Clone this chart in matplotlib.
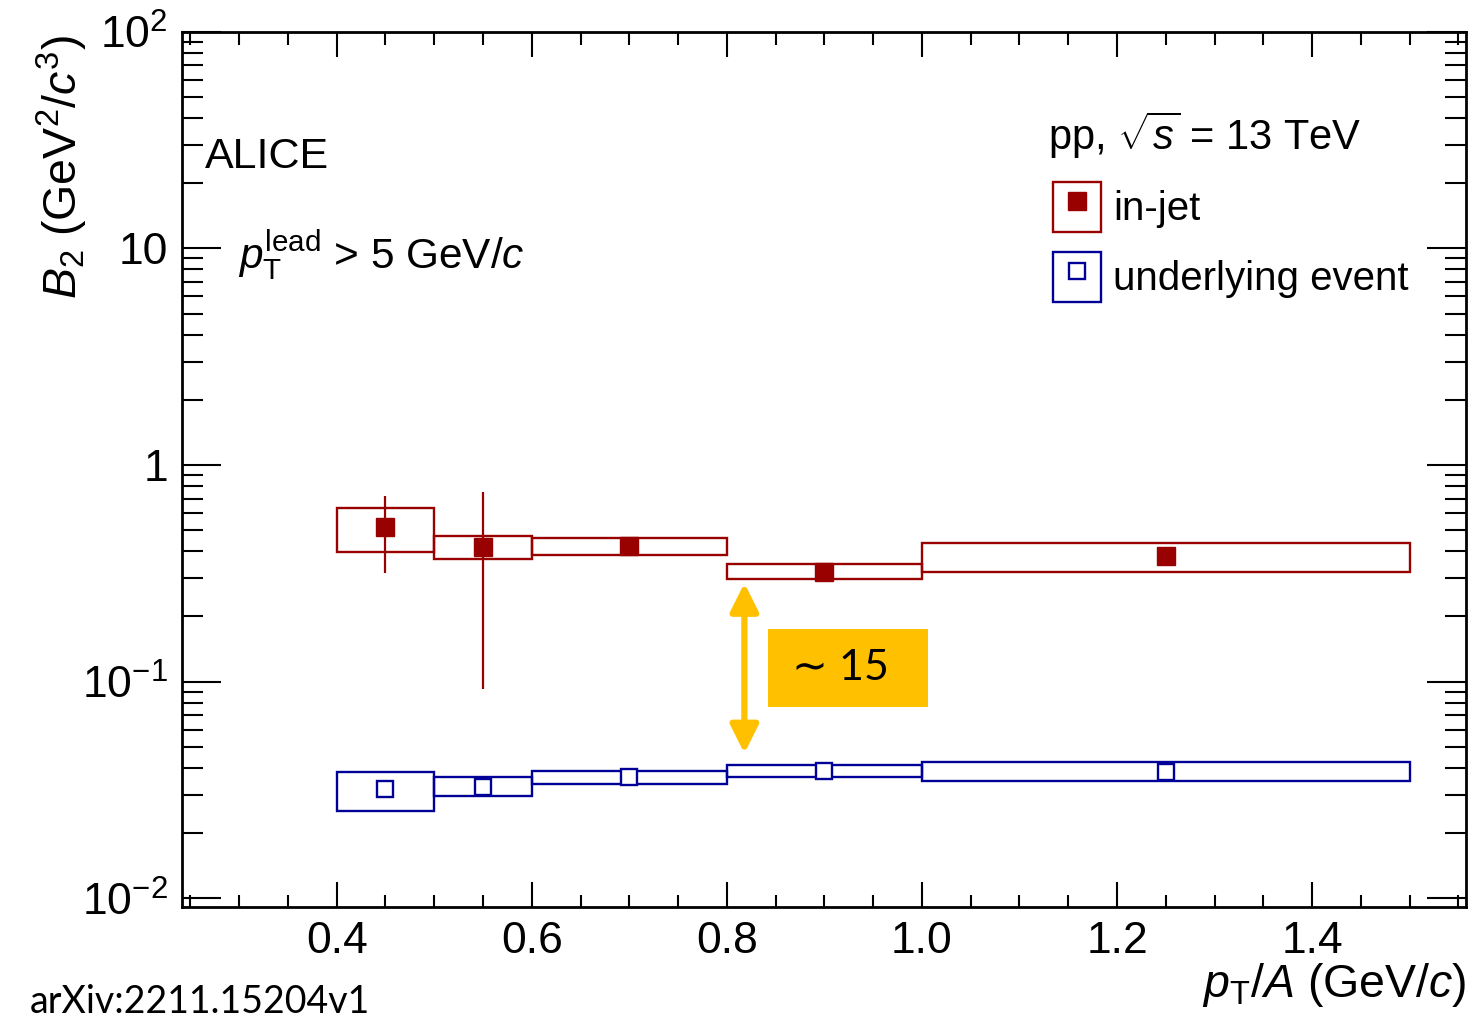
import matplotlib
matplotlib.use("Agg")
import matplotlib.pyplot as plt
from matplotlib.patches import Rectangle, Patch
from matplotlib.lines import Line2D
from matplotlib.legend_handler import HandlerTuple
from matplotlib.ticker import FixedLocator, FixedFormatter

plt.rcParams['font.family'] = ['Liberation Sans', 'DejaVu Sans']
plt.rcParams['mathtext.fontset'] = 'custom'
plt.rcParams['mathtext.rm'] = 'Liberation Sans'
plt.rcParams['mathtext.it'] = 'Liberation Sans:italic'
plt.rcParams['mathtext.bf'] = 'Liberation Sans:bold'

# pT/A bins
bin_lo = [0.4, 0.5, 0.6, 0.8, 1.0]
bin_hi = [0.5, 0.6, 0.8, 1.0, 1.5]
pt_a = [0.45, 0.55, 0.70, 0.90, 1.25]

# in-jet B2 with stat (bars) and syst (boxes) limits
jet_b2 = [0.516, 0.420, 0.423, 0.322, 0.380]
jet_stat_low = [0.318, 0.0925, 0.415, 0.316, 0.373]
jet_stat_high = [0.719, 0.748, 0.431, 0.328, 0.387]
jet_sys_low = [0.398, 0.368, 0.383, 0.298, 0.322]
jet_sys_high = [0.633, 0.470, 0.460, 0.348, 0.435]

# underlying event B2 with syst boxes
ue_b2 = [0.0319, 0.0328, 0.0363, 0.0387, 0.0384]
ue_sys_low = [0.0253, 0.0298, 0.0337, 0.0364, 0.0348]
ue_sys_high = [0.0382, 0.0364, 0.0388, 0.0413, 0.0425]

# ratio annotation
ratio_x = 0.818
ratio_y_top = 0.285
ratio_y_bot = 0.0467
ratio_box_x = [0.842, 1.006]
ratio_box_y = [0.0766, 0.175]
ratio_text = '\u223c 15'

x_ticks = [0.4, 0.6, 0.8, 1.0, 1.2, 1.4]
x_tick_labels = ['0.4', '0.6', '0.8', '1.0', '1.2', '1.4']
y_ticks = [0.01, 0.1, 1, 10, 100]
y_tick_labels = [r'$10^{-2}$', r'$10^{-1}$', '1', '10', r'$10^{2}$']

red = '#990000'
blue = '#000099'
orange = '#FFC000'

fig = plt.figure(figsize=(14.72, 10.19), dpi=100)
ax = fig.add_axes([0.1236, 0.1099, 0.8723, 0.8590])
ax.set_yscale('log')
ax.set_xlim(0.2414, 1.5577)
ax.set_ylim(0.00912, 100)

# systematic boxes
for lo, hi, ylo, yhi in zip(bin_lo, bin_hi, jet_sys_low, jet_sys_high):
    ax.add_patch(Rectangle((lo, ylo), hi - lo, yhi - ylo, fill=False,
                           edgecolor=red, linewidth=1.7, zorder=2))
for lo, hi, ylo, yhi in zip(bin_lo, bin_hi, ue_sys_low, ue_sys_high):
    ax.add_patch(Rectangle((lo, ylo), hi - lo, yhi - ylo, fill=False,
                           edgecolor=blue, linewidth=1.7, zorder=2))

yerr = [[v - l for v, l in zip(jet_b2, jet_stat_low)],
        [h - v for v, h in zip(jet_b2, jet_stat_high)]]
ax.errorbar(pt_a, jet_b2, yerr=yerr, fmt='s', color=red, ms=13,
            elinewidth=1.6, capsize=0, zorder=3)
ax.plot(pt_a, ue_b2, 's', ms=12, mfc='white', mec=blue, mew=1.7,
        linestyle='none', zorder=3)

# ~15 separation between in-jet and UE
ax.annotate('', xy=(ratio_x, ratio_y_top), xytext=(ratio_x, ratio_y_bot),
            arrowprops=dict(arrowstyle='<|-|>,head_length=1.7,head_width=0.85',
                            color=orange, lw=4.5, shrinkA=0, shrinkB=0),
            zorder=4)
ax.add_patch(Rectangle((ratio_box_x[0], ratio_box_y[0]),
                       ratio_box_x[1] - ratio_box_x[0],
                       ratio_box_y[1] - ratio_box_y[0],
                       facecolor=orange, edgecolor='none', zorder=4))
ax.text(0.9166, (ratio_box_y[0] * ratio_box_y[1]) ** 0.5, ratio_text,
        ha='center', va='center', fontsize=31, family=['Lato', 'DejaVu Sans'],
        zorder=5)

# axes / ticks (ROOT style)
for s in ax.spines.values():
    s.set_linewidth(2)
ax.xaxis.set_major_locator(FixedLocator(x_ticks))
ax.xaxis.set_major_formatter(FixedFormatter(x_tick_labels))
ax.xaxis.set_minor_locator(FixedLocator([0.25 + 0.05 * i for i in range(27)]))
ax.yaxis.set_major_locator(FixedLocator(y_ticks))
ax.yaxis.set_major_formatter(FixedFormatter(y_tick_labels))
ax.yaxis.set_minor_locator(FixedLocator([m * 10.0 ** e for e in range(-3, 2)
                                         for m in range(2, 10)]))
ax.tick_params(which='both', direction='in', top=True, right=True,
               width=1.5, labelsize=32, pad=10)
ax.tick_params(axis='x', which='major', length=18)
ax.tick_params(axis='x', which='minor', length=9)
ax.tick_params(axis='y', which='major', length=28)
ax.tick_params(axis='y', which='minor', length=15)

fig.text(62 / 1472, 1 - 35 / 1019, r'$B_{2}$ (GeV$^{2}$/$c^{3}$)',
         rotation=90, ha='center', va='top', fontsize=33.5)
fig.text(1466 / 1472, 1 - 997 / 1019, r'$p_{\mathrm{T}}$/$A$ (GeV/$c$)',
         ha='right', va='baseline', fontsize=33.5)

ax.text(0.0179, 0.8443, 'ALICE', transform=ax.transAxes, fontsize=31)
ax.text(0.0436, 0.730, r'$p_{\mathrm{T}}^{\mathrm{lead}}$ > 5 GeV/$c$',
        transform=ax.transAxes, fontsize=30.5)
ax.text(0.6745, 0.865, r'pp, $\sqrt{s}$ = 13 TeV', transform=ax.transAxes,
        fontsize=30)

h_jet = (Patch(facecolor='none', edgecolor=red, linewidth=1.7),
         Line2D([], [], marker='s', color=red, ms=13, linestyle='none'))
h_ue = (Patch(facecolor='none', edgecolor=blue, linewidth=1.7),
        Line2D([], [], marker='s', mfc='white', mec=blue, mew=1.7, ms=12,
               linestyle='none'))
ax.legend([h_jet, h_ue], ['in-jet', 'underlying event'],
          handler_map={tuple: HandlerTuple(ndivide=1, pad=0)},
          loc='upper left', bbox_to_anchor=(0.6783, 0.8283), frameon=False,
          fontsize=29, handlelength=1.2, handleheight=1.53,
          handletextpad=0.3, borderpad=0, borderaxespad=0, labelspacing=0.5)

fig.text(30 / 1472, 1 - 1013 / 1019, 'arXiv:2211.15204v1', family='Lato',
         fontsize=27, va='baseline')

fig.savefig('out.png', dpi=100)
